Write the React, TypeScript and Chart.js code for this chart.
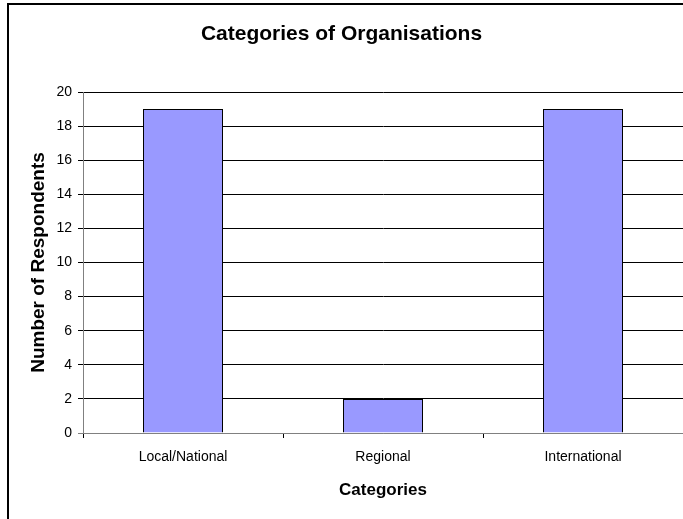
import React, { useEffect, useRef } from "react";
import { Chart, registerables } from "chart.js";

Chart.register(...registerables);

const categories = ["Local/National", "Regional", "International"];
const respondents = [19, 2, 19];
const chartTitle = "Categories of Organisations";
const xTitle = "Categories";
const yTitle = "Number of Respondents";
const yMin = 0;
const yMax = 20;
const yStep = 2;

const FONT = "'Liberation Sans', Arial, sans-serif";

const frame = {
  id: "frame",
  beforeDraw(chart: any) {
    const { ctx, width, height } = chart;
    ctx.save();
    ctx.fillStyle = "#ffffff";
    ctx.fillRect(0, 0, width, height);
    ctx.strokeStyle = "#000000";
    ctx.lineWidth = 2;
    ctx.strokeRect(8, 4, width + 20, height + 20);
    ctx.restore();
  },
};

export default function App() {
  const ref = useRef<HTMLCanvasElement | null>(null);
  useEffect(() => {
    if (!ref.current) return;
    const chart = new Chart(ref.current, {
      type: "bar",
      data: {
        labels: categories,
        datasets: [
          {
            data: respondents,
            backgroundColor: "#9999FF",
            borderColor: "#000000",
            borderWidth: 1,
            barPercentage: 0.4,
            categoryPercentage: 1,
          },
        ],
      },
      options: {
        responsive: false,
        animation: false,
        layout: { padding: { left: 0, right: 0, top: 0, bottom: 0 } },
        plugins: {
          legend: { display: false },
          tooltip: { enabled: false },
          title: {
            display: true,
            text: chartTitle,
            color: "#000000",
            font: { family: FONT, size: 21, weight: "bold" },
            padding: { top: 22, bottom: 44.8 },
          },
        },
        scales: {
          x: {
            offset: true,
            grid: {
              display: true,
              drawOnChartArea: false,
              drawTicks: true,
              tickLength: 5,
              color: "#000000",
              offset: true,
            },
            border: { display: true, color: "#808080", width: 1 },
            ticks: {
              color: "#000000",
              padding: 11,
              font: { family: FONT, size: 14 },
              maxRotation: 0,
            },
            title: {
              display: true,
              text: xTitle,
              color: "#000000",
              font: { family: FONT, size: 17, weight: "bold" },
              padding: { top: 0, bottom: 18 },
            },
            afterFit(scale: any) {
              scale.height = 86;
            },
          },
          y: {
            min: yMin,
            max: yMax,
            grid: {
              drawTicks: true,
              tickLength: 5,
              color: (c: any) => (c.tick && c.tick.value === 0 ? "#808080" : "#000000"),
            },
            border: { display: true, color: "#808080", width: 1 },
            ticks: {
              stepSize: yStep,
              color: "#000000",
              padding: 6,
              font: { family: FONT, size: 14 },
            },
            title: {
              display: true,
              text: yTitle,
              color: "#000000",
              font: { family: FONT, size: 19, weight: "bold" },
              padding: { top: 27, bottom: 0 },
            },
            afterFit(scale: any) {
              scale.width = 83;
            },
          },
        },
      },
      plugins: [frame],
    });
    return () => chart.destroy();
  }, []);
  return (
    <div style={{ position: "absolute", left: 0, top: 0, width: 683, height: 519 }}>
      <canvas ref={ref} width={683} height={519} style={{ display: "block" }} />
    </div>
  );
}
